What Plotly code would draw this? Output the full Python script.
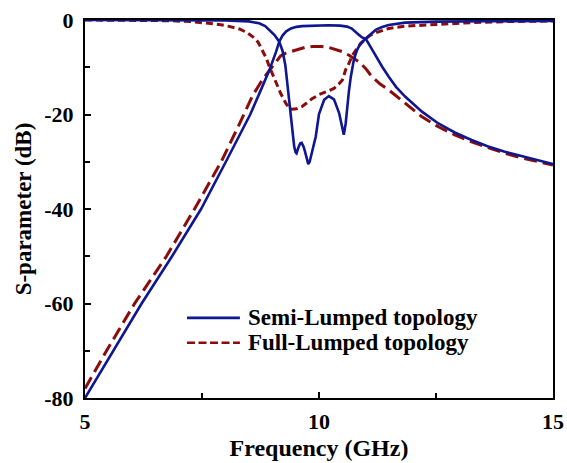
import plotly.graph_objects as go

# Semi-Lumped topology, S21 (transmission)
semi_s21_f = [5, 5.6, 6.21, 6.86, 7.48, 8.01, 8.3, 8.53, 8.75, 8.94, 9.08, 9.15, 9.22, 9.3, 9.40, 9.52, 9.64, 9.9, 10.2,
              10.45, 10.6, 10.7, 10.78, 10.85, 10.92, 11.0, 11.12, 11.21, 11.35, 11.49, 11.65, 11.84, 12.0, 12.2, 12.55,
              12.9, 13.26, 13.6, 13.97, 14.54, 15]
semi_s21_db = [-80, -70, -60, -50, -40, -30, -24.5, -20, -15, -10.6, -6.8, -4.6, -3.3, -2.4, -1.8, -1.45, -1.3, -1.15, -1.1,
               -1.2, -1.4, -1.8, -2.4, -3.1, -3.7, -4.0, -6.0, -7.6, -9.9, -12.0, -14.2, -16.2, -17.7, -19.4, -21.9,
               -23.8, -25.4, -26.7, -27.9, -29.3, -30.5]

# Semi-Lumped topology, S11 (reflection)
semi_s11_f = [5, 7, 8, 8.5, 8.72, 8.85, 8.94, 9.05, 9.15, 9.22, 9.28, 9.33, 9.37, 9.40, 9.44, 9.47, 9.50, 9.52, 9.56,
              9.60, 9.63, 9.67, 9.70, 9.74, 9.77, 9.80, 9.84, 9.93, 10.0, 10.11, 10.21, 10.32, 10.43, 10.50, 10.53,
              10.57, 10.6, 10.64, 10.68, 10.71, 10.74, 10.78, 10.82, 10.89, 10.96, 11.03, 11.1, 11.21, 11.35, 11.49,
              11.84, 12.5, 13.5, 15]
semi_s11_db = [0, -0.02, -0.1, -0.3, -0.7, -1.3, -2.1, -3.2, -4.6, -6.5, -9.5, -14, -18, -21.2, -24.5, -26.8, -28, -28.2,
               -27, -26.1, -26.0, -26.8, -27.8, -29.5, -30.5, -30.0, -28.2, -24.7, -19.9, -16.9, -16.1, -16.8, -19.7,
               -22.9, -24.3, -21.9, -18.5, -15.0, -12.0, -10.3, -8.7, -7.3, -6.2, -4.9, -4.3, -3.8, -3.0, -2.1, -1.5,
               -1.06, -0.56, -0.35, -0.25, -0.2]

# Full-Lumped topology, S21
full_s21_f = [5, 5.46, 6.06, 6.74, 7.34, 7.91, 8.3, 8.58, 8.8, 8.94, 9.08, 9.18, 9.29, 9.5, 9.7, 9.86, 10.05, 10.21,
              10.35, 10.5, 10.65, 10.85, 11.0, 11.13, 11.3, 11.49, 11.84, 12.2, 12.55, 12.9, 13.26, 13.6, 13.97, 14.3,
              14.68, 15]
full_s21_db = [-78, -70, -60, -50, -40, -30, -22, -16, -12.5, -10.6, -8.8, -7.6, -7.0, -6.3, -5.8, -5.6, -5.6, -5.8,
               -6.2, -6.7, -7.5, -8.8, -10.3, -12.0, -13.5, -14.8, -17.6, -20.5, -22.6, -24.3, -25.8, -27.0, -28.2,
               -29.1, -30.0, -30.7]

# Full-Lumped topology, S11
full_s11_f = [5, 6, 6.8, 7.3, 7.66, 7.9, 8.1, 8.3, 8.45, 8.58, 8.7, 8.79, 8.87, 8.94, 9.08, 9.18, 9.29, 9.36, 9.43,
              9.52, 9.64, 9.75, 9.86, 10.0, 10.14, 10.32, 10.42, 10.5, 10.57, 10.64, 10.71, 10.78, 10.85, 10.99, 11.1,
              11.21, 11.49, 11.84, 12.55, 13.26, 13.97, 15]
full_s11_db = [0, -0.05, -0.15, -0.35, -0.7, -1.0, -1.4, -1.9, -2.6, -3.5, -4.7, -6.3, -8.0, -9.9, -13.1, -15.5, -17.6,
               -18.6, -18.9, -18.8, -18.3, -17.4, -16.6, -15.8, -15.2, -14.5, -13.6, -12.7, -10.5, -9.2, -7.5, -6.6,
               -5.5, -4.0, -3.2, -2.7, -1.8, -1.3, -0.85, -0.56, -0.35, -0.2]

x_ticks = [5, 10, 15]
y_ticks = [0, -20, -40, -60, -80]
legend_names = ["Semi-Lumped topology", "Full-Lumped topology"]

BLUE = "rgb(14,22,145)"
RED = "rgb(140,12,12)"
FONT = "Liberation Serif, Times New Roman, serif"

fig = go.Figure()
fig.add_trace(go.Scatter(x=full_s21_f, y=full_s21_db, mode="lines",
                         line=dict(color=RED, width=3, dash="13px,6px"), showlegend=False))
fig.add_trace(go.Scatter(x=full_s11_f, y=full_s11_db, mode="lines",
                         line=dict(color=RED, width=3, dash="7px,4px"), showlegend=False))
fig.add_trace(go.Scatter(x=semi_s21_f, y=semi_s21_db, mode="lines",
                         line=dict(color=BLUE, width=2.6), showlegend=False))
fig.add_trace(go.Scatter(x=semi_s11_f, y=semi_s11_db, mode="lines",
                         line=dict(color=BLUE, width=2.6), showlegend=False))

# manual legend
leg_y = [0.212, 0.146]
leg_dash = ["solid", "8px,3.5px"]
leg_col = [BLUE, RED]
for name, yy, dsh, col in zip(legend_names, leg_y, leg_dash, leg_col):
    fig.add_shape(type="line", xref="paper", yref="paper", x0=0.218, x1=0.331, y0=yy, y1=yy,
                  line=dict(color=col, width=2.6, dash=dsh))
    fig.add_annotation(text=f"<b>{name}</b>", xref="paper", yref="paper", x=0.344, y=yy,
                       xanchor="left", yanchor="middle", showarrow=False,
                       font=dict(family=FONT, size=23, color="black"))

axis_common = dict(showline=True, linecolor="black", linewidth=2, mirror=True, ticks="inside",
                   tickcolor="black", ticklen=6, tickwidth=1.5, showgrid=False, zeroline=False,
                   automargin=False, tickfont=dict(family=FONT, size=22, color="black"))

fig.update_xaxes(range=[5, 15], tickvals=x_ticks, ticktext=[f"<b>{v}</b>" for v in x_ticks],
                 minor=dict(dtick=2.5, ticks="inside", ticklen=5, tickcolor="black", tickwidth=1.5),
                 title=dict(text="<b>Frequency (GHz)</b>", font=dict(family=FONT, size=24, color="black"),
                            standoff=6),
                 ticklabelstandoff=3, **axis_common)
fig.update_yaxes(range=[-80, 0], tickvals=y_ticks, ticktext=[f"<b>{v}</b>" for v in y_ticks],
                 minor=dict(dtick=10, ticks="inside", ticklen=5, tickcolor="black", tickwidth=1.5),
                 title=dict(text="<b>S-parameter (dB)</b>", font=dict(family=FONT, size=23, color="black"),
                            standoff=6),
                 ticklabelstandoff=5, **axis_common)

fig.update_layout(width=567, height=463, margin=dict(l=85, r=14, t=20, b=65, autoexpand=False),
                  paper_bgcolor="white", plot_bgcolor="white", showlegend=False)

fig.write_html("out.html")
